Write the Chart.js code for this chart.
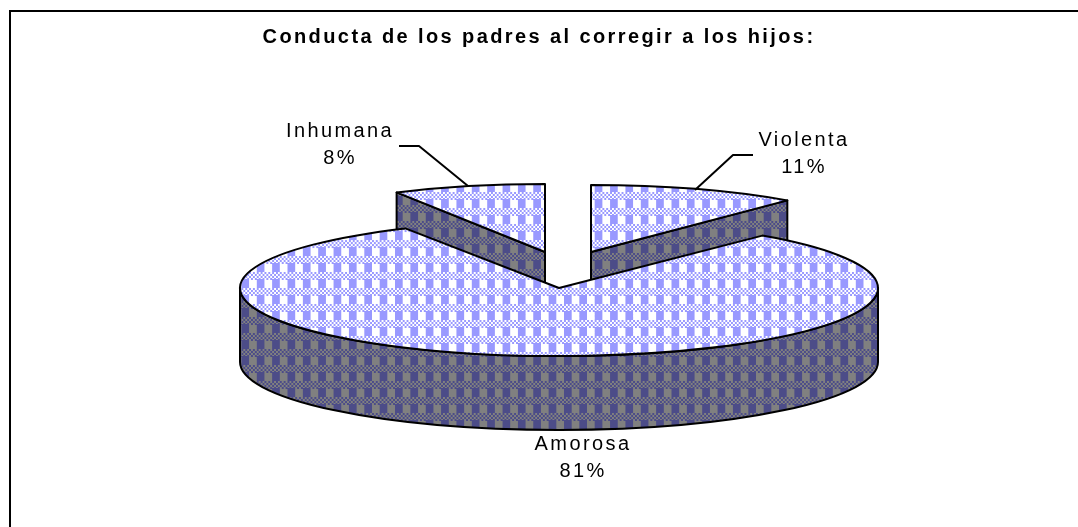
<!DOCTYPE html>
<html>
<head>
<meta charset="utf-8">
<title>Conducta de los padres</title>
<script src="https://cdn.jsdelivr.net/npm/chart.js@4"></script>
<style>
  html, body { margin: 0; padding: 0; background: #fff; }
  #wrap { width: 1078px; height: 527px; }
</style>
</head>
<body>
<div id="wrap"><canvas id="c" width="1078" height="527"></canvas></div>
<script>
// clockwise from 12 o'clock
const categories = ["Violenta", "Amorosa", "Inhumana"];
const percents = [11, 81, 8];
const titleText = "Conducta de los padres al corregir a los hijos:";

// --- projection of the flat pie into the tilted one ---
const DEPTH = 74;
const slices3d = [
  { cx: 591, cy: 252, rx: 308, ry: 67 },
  { cx: 559, cy: 288, rx: 319, ry: 68 },
  { cx: 545, cy: 252, rx: 308, ry: 68 },
];
const drawOrder = [0, 2, 1];

// where the texts go, centred on x
const labelSpots = [
  { x: 804, y: 140, line: [[695, 190], [733, 155], [753, 155]] },
  { x: 583, y: 444, line: null },
  { x: 340, y: 131, line: [[468, 186], [419, 146], [399, 146]] },
];

// plaid tile, same as the office pattern fill
function makeTile(ink, paper) {
  const t = document.createElement("canvas");
  t.width = 16;
  t.height = 16;
  const g = t.getContext("2d");
  g.fillStyle = paper;
  g.fillRect(0, 0, 16, 16);
  g.fillStyle = ink;
  g.fillRect(0, 7, 8, 9);
  for (let y = 0; y < 7; y += 2) {
    for (let x = 0; x < 16; x += 2) {
      if ((x + y) % 4 === 0) g.fillRect(x, y, 2, 2);
    }
  }
  return t;
}

const ctx0 = document.getElementById("c").getContext("2d");
const topPattern = ctx0.createPattern(makeTile("#9999ff", "#ffffff"), "repeat");
const wallPattern = ctx0.createPattern(makeTile("#4c4c88", "#808080"), "repeat");
const topTile = new DOMMatrix().translate(11, 0).scale(0.96, 1);
const wallTile = new DOMMatrix().translate(11, 13).scale(0.96, 1);

const pie3d = {
  id: "pie3d",
  beforeDraw(chart) {
    const ctx = chart.ctx;
    ctx.fillStyle = "#fff";
    ctx.fillRect(0, 0, chart.width, chart.height);
    ctx.letterSpacing = "2.4px";
    // only top and left of the frame show up in the picture
    ctx.fillStyle = "#000";
    ctx.fillRect(9, 10, chart.width - 9, 2);
    ctx.fillRect(9, 10, 2, chart.height - 10);
  },
  beforeDatasetsDraw(chart) {
    const ctx = chart.ctx;
    const arcs = chart.getDatasetMeta(0).data;
    ctx.lineWidth = 2;
    ctx.lineJoin = "round";
    ctx.strokeStyle = "#000";
    wallPattern.setTransform(wallTile);

    drawOrder.forEach((i) => {
      const arc = arcs[i];
      const s = slices3d[i];
      const a0 = arc.startAngle;
      const a1 = arc.endAngle;
      const ptX = (a) => s.cx + Math.cos(a) * s.rx;
      const ptY = (a) => s.cy + Math.sin(a) * s.ry;

      // cut faces that look at the viewer
      [[a0, -Math.cos(a0)], [a1, Math.cos(a1)]].forEach(([a, facing]) => {
        if (facing < 0.01) return;
        ctx.beginPath();
        ctx.moveTo(s.cx, s.cy);
        ctx.lineTo(ptX(a), ptY(a));
        ctx.lineTo(ptX(a), ptY(a) + DEPTH);
        ctx.lineTo(s.cx, s.cy + DEPTH);
        ctx.closePath();
        ctx.fillStyle = wallPattern;
        ctx.fill();
        ctx.stroke();
      });

      // outer wall, front half only
      const w0 = Math.max(a0, 0);
      const w1 = Math.min(a1, Math.PI);
      if (w1 > w0) {
        ctx.beginPath();
        ctx.ellipse(s.cx, s.cy, s.rx, s.ry, 0, w0, w1);
        ctx.ellipse(s.cx, s.cy + DEPTH, s.rx, s.ry, 0, w1, w0, true);
        ctx.closePath();
        ctx.fillStyle = wallPattern;
        ctx.fill();
        ctx.stroke();
      }

      // top face is the library's own arc, squashed
      ctx.save();
      ctx.translate(s.cx, s.cy);
      ctx.scale(s.rx / arc.outerRadius, s.ry / arc.outerRadius);
      ctx.translate(-arc.x, -arc.y);
      topPattern.setTransform(ctx.getTransform().inverse().multiply(topTile));
      arc.draw(ctx);
      ctx.restore();

      // outline in screen space so the pen stays even
      ctx.beginPath();
      ctx.moveTo(s.cx, s.cy);
      ctx.ellipse(s.cx, s.cy, s.rx, s.ry, 0, a0, a1);
      ctx.closePath();
      ctx.stroke();
    });
    return false; // arcs are done above
  },
  afterDraw(chart) {
    const ctx = chart.ctx;
    ctx.save();
    ctx.fillStyle = "#000";
    ctx.strokeStyle = "#000";
    ctx.lineWidth = 2;
    ctx.font = "20px 'Liberation Sans'";
    ctx.textAlign = "center";
    ctx.textBaseline = "middle";
    ctx.letterSpacing = "2.4px";
    labelSpots.forEach((p, i) => {
      ctx.fillText(categories[i], p.x, p.y);
      ctx.fillText(percents[i] + "%", p.x, p.y + 27);
      if (p.line) {
        ctx.beginPath();
        p.line.forEach(([x, y], k) => (k ? ctx.lineTo(x, y) : ctx.moveTo(x, y)));
        ctx.stroke();
      }
    });
    ctx.restore();
  },
};

new Chart(ctx0, {
  type: "pie",
  data: {
    labels: categories,
    datasets: [
      {
        data: percents,
        backgroundColor: topPattern,
        borderWidth: 0,
        hoverOffset: 0,
      },
    ],
  },
  options: {
    responsive: false,
    animation: false,
    events: [],
    plugins: {
      legend: { display: false },
      tooltip: { enabled: false },
      title: {
        display: true,
        text: titleText,
        color: "#000",
        font: { family: "'Liberation Sans'", size: 20, weight: "bold" },
        padding: { top: 25, bottom: 10 },
      },
    },
  },
  plugins: [pie3d],
});
</script>
</body>
</html>
